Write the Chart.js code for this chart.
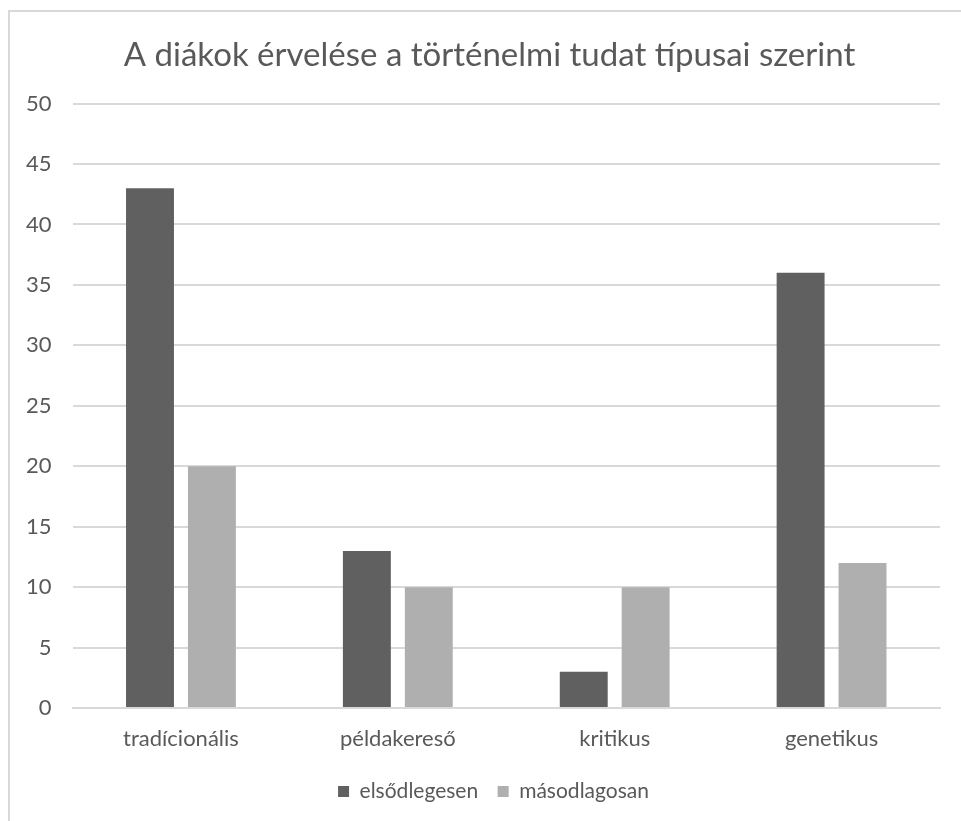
<!DOCTYPE html>
<html>
<head>
<meta charset="utf-8">
<script src="https://cdn.jsdelivr.net/npm/chart.js@4"></script>
<style>
  html, body { margin: 0; padding: 0; background: #fff; overflow: hidden; }
  #wrap { position: relative; width: 961px; height: 821px; }
  #frame { position: absolute; left: 8px; top: 10px; width: 1000px; height: 900px; border: 2px solid #d9d9d9; pointer-events: none; }
  canvas { position: absolute; left: 0; top: 0; }
</style>
</head>
<body>
<div id="wrap">
  <div id="frame"></div>
  <canvas id="chart" width="961" height="821"></canvas>
</div>
<script>
const categories = ["tradícionális", "példakereső", "kritikus", "genetikus"];
const primaryValues = [43, 13, 3, 36];
const secondaryValues = [20, 10, 10, 12];
const yTicks = [0, 5, 10, 15, 20, 25, 30, 35, 40, 45, 50];

const textColor = "#595959";
const fontFamily = "Lato, 'Open Sans', sans-serif";

// title and legend sit centred over the plot area in the original, not over the canvas
const centreOnPlot = {
	id: "centreOnPlot",
	afterLayout(chart) {
		const t = chart.titleBlock;
		t.left += 17;
		t.right += 17;
		const l = chart.legend;
		l.left += 21;
		l.right += 21;
	},
};

window.onload = () => {
	const ctx = document.getElementById("chart").getContext("2d");

	new Chart(ctx, {
		type: "bar",
		data: {
			labels: categories,
			datasets: [
				{
					label: "elsődlegesen",
					backgroundColor: "#606060",
					data: primaryValues,
				},
				{
					label: "másodlagosan",
					backgroundColor: "#afafaf",
					data: secondaryValues,
				},
			],
		},
		plugins: [centreOnPlot],
		options: {
			responsive: false,
			animation: false,
			categoryPercentage: 0.571,
			barPercentage: 0.774,
			layout: { padding: { left: 5, right: 21, bottom: 9, top: 0 } },
			plugins: {
				title: {
					display: true,
					text: "A diákok érvelése a történelmi tudat típusai szerint",
					color: textColor,
					font: { family: fontFamily, size: 33, weight: "normal" },
					padding: { top: 36, bottom: 28 },
				},
				legend: {
					position: "bottom",
					labels: {
						color: textColor,
						font: { family: fontFamily, size: 21 },
						boxWidth: 11,
						boxHeight: 11,
						padding: 19.5,
					},
				},
				tooltip: { enabled: false },
			},
			scales: {
				x: {
					grid: { display: false },
					border: { color: "#d9d9d9", width: 2 },
					ticks: {
						color: textColor,
						font: { family: fontFamily, size: 22 },
						padding: 9.5,
					},
				},
				y: {
					min: 0,
					max: 50,
					afterBuildTicks: (axis) => {
						axis.ticks = yTicks.map((v) => ({ value: v }));
					},
					grid: { color: "#d9d9d9", lineWidth: 2, drawTicks: false },
					border: { display: false },
					ticks: {
						color: textColor,
						font: { family: fontFamily, size: 22 },
						padding: 21,
					},
				},
			},
		},
	});
};
</script>
</body>
</html>
